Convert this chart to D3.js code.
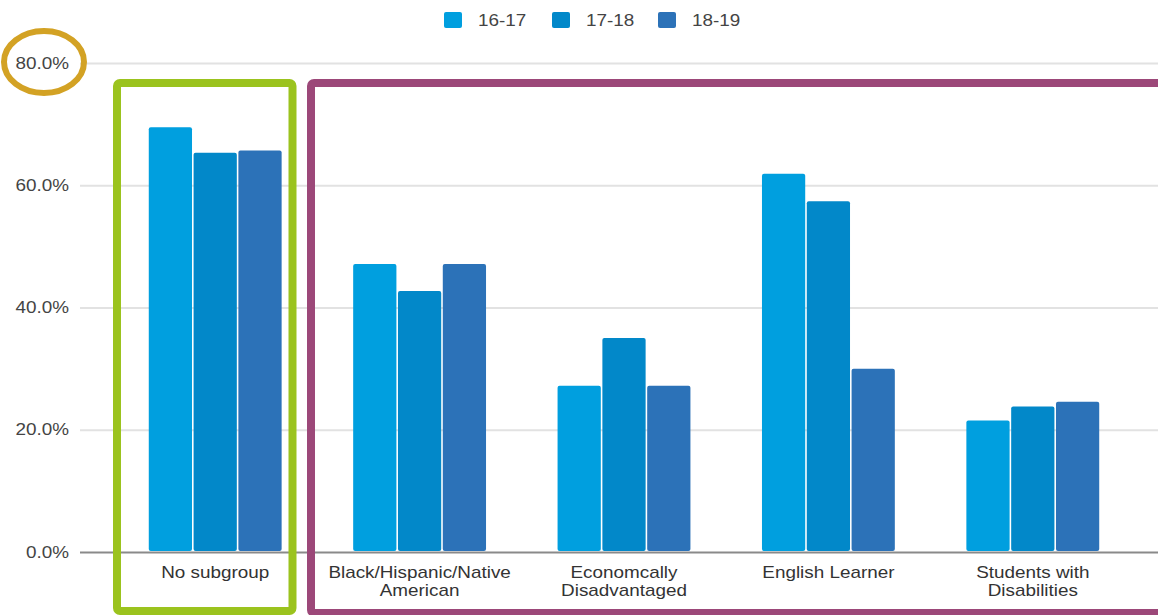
<!DOCTYPE html>
<html>
<head>
<meta charset="utf-8">
<script src="https://cdn.jsdelivr.net/npm/d3@7"></script>
<style>
  body { margin: 0; background: #fff; }
  text { font-family: "Liberation Sans", Arial, sans-serif; }
</style>
</head>
<body>
<div id="chart"></div>
<script>
// data
const categories = [
  ["No subgroup"],
  ["Black/Hispanic/Native", "American"],
  ["Economcally", "Disadvantaged"],
  ["English Learner"],
  ["Students with", "Disabilities"]
];
const years = ["16-17", "17-18", "18-19"];
const values1617 = [69.5, 47.1, 27.2, 61.9, 21.5];
const values1718 = [65.3, 42.7, 35.0, 57.4, 23.8];
const values1819 = [65.7, 47.1, 27.2, 30.0, 24.6];
const yTicks = [0, 20, 40, 60, 80];
const colors = ["#009fdf", "#0288c9", "#2c72b8"];

function groupedBars() {
  const W = 1158, H = 615;
  const stretch = 1.18; // text in the picture is a bit wide
  const series = [values1617, values1718, values1819];

  let svg = d3.select("#chart")
    .append("svg")
    .attr("width", W)
    .attr("height", H);

  let x0 = d3.scaleBand()
    .domain(d3.range(categories.length))
    .range([113, 1135])
    .paddingInner(0.35)
    .paddingOuter(0.175);

  let x1 = d3.scaleBand()
    .domain(years)
    .range([0, x0.bandwidth()])
    .paddingInner(0.035);

  let y = d3.scaleLinear().domain([0, 80]).range([552, 63]);

  // gridlines + tick labels
  let yAxis = d3.axisLeft(y)
    .tickValues(yTicks)
    .tickSize(-(W - 80))
    .tickPadding(10)
    .tickFormat(d => d.toFixed(1) + "%");

  let gy = svg.append("g")
    .attr("transform", "translate(80,0)")
    .call(yAxis);
  gy.select(".domain").remove();
  gy.selectAll(".tick line")
    .attr("stroke", d => d === 0 ? "#8a8a8a" : "#e2e2e2")
    .attr("stroke-width", 2);
  gy.selectAll(".tick text")
    .attr("fill", "#444")
    .style("font-size", "16px")
    .attr("x", null)
    .attr("transform", `translate(-11,0) scale(${stretch},1)`);

  // bars
  let groups = svg.append("g")
    .selectAll("g")
    .data(categories.map((c, i) => i))
    .enter()
    .append("g")
    .attr("transform", i => `translate(${x0(i)},0)`);

  groups.selectAll("rect")
    .data(i => years.map((yr, k) => ({yr: yr, k: k, v: series[k][i]})))
    .enter()
    .append("rect")
    .attr("x", d => x1(d.yr))
    .attr("width", x1.bandwidth())
    .attr("y", d => y(d.v))
    .attr("height", d => y(0) - y(d.v) - 1)
    .attr("rx", 2)
    .attr("fill", d => colors[d.k]);

  // category labels
  let labels = svg.append("g")
    .selectAll("text")
    .data(categories)
    .enter()
    .append("text")
    .attr("text-anchor", "middle")
    .attr("fill", "#333")
    .style("font-size", "16px")
    .attr("transform", (c, i) => `translate(${x0(i) + x0.bandwidth() / 2},578) scale(${stretch},1)`);
  labels.selectAll("tspan")
    .data(c => c)
    .enter()
    .append("tspan")
    .attr("x", 0)
    .attr("dy", (t, j) => j === 0 ? 0 : 18)
    .text(t => t);

  // legend
  let legX = [444, 552, 658];
  let leg = svg.append("g")
    .selectAll("g")
    .data(years)
    .enter()
    .append("g")
    .attr("transform", (d, i) => `translate(${legX[i]},12)`);
  leg.append("rect")
    .attr("width", 18)
    .attr("height", 16)
    .attr("rx", 2)
    .attr("fill", (d, i) => colors[i]);
  leg.append("text")
    .attr("transform", `translate(34,14) scale(${stretch},1)`)
    .attr("fill", "#444")
    .style("font-size", "16px")
    .text(d => d);

  // hand-drawn highlights
  svg.append("ellipse")
    .attr("cx", 44).attr("cy", 62)
    .attr("rx", 40).attr("ry", 31)
    .attr("fill", "none")
    .attr("stroke", "#d3a224")
    .attr("stroke-width", 6);

  svg.append("rect")
    .attr("x", 117).attr("y", 83)
    .attr("width", 175.5).attr("height", 528)
    .attr("rx", 3)
    .attr("fill", "none")
    .attr("stroke", "#9bc31e")
    .attr("stroke-width", 8);

  svg.append("rect")
    .attr("x", 311).attr("y", 83)
    .attr("width", 880).attr("height", 530)
    .attr("rx", 3)
    .attr("fill", "none")
    .attr("stroke", "#9c4879")
    .attr("stroke-width", 8);
}

groupedBars();
</script>
</body>
</html>
